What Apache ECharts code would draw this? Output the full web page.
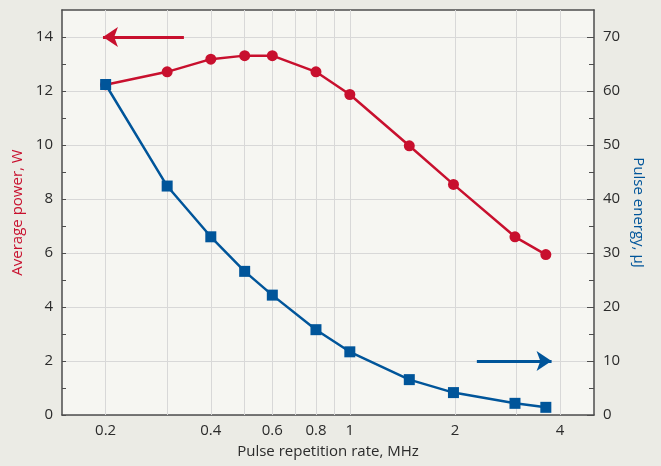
<!DOCTYPE html>
<html>
<head>
<meta charset="utf-8">
<script src="https://cdn.jsdelivr.net/npm/echarts@6/dist/echarts.min.js"></script>
<style>
html,body{margin:0;padding:0;background:#ebebe5;}
#chart{width:661px;height:466px;}
</style>
</head>
<body>
<div id="chart"></div>
<script>
// Data
const freq = [0.2, 0.3, 0.4, 0.5, 0.6, 0.8, 1.0, 1.48, 1.98, 2.97, 3.64];   // MHz
const power = [12.23, 12.71, 13.18, 13.31, 13.31, 12.71, 11.87, 9.97, 8.54, 6.6, 5.94]; // W
const energy = [61.2, 42.4, 33.0, 26.6, 22.2, 15.8, 11.7, 6.55, 4.15, 2.16, 1.42]; // uJ
const xTicks = [0.2, 0.3, 0.4, 0.5, 0.6, 0.7, 0.8, 0.9, 1, 2, 3, 4];
const xLabels = [0.2, 0.4, 0.6, 0.8, 1, 2, 4];
const yLeftMajor = [0, 2, 4, 6, 8, 10, 12, 14];
const yLeftMinor = [1, 3, 5, 7, 9, 11, 13];
const yRightMajor = [0, 10, 20, 30, 40, 50, 60, 70];
const yRightMinor = [5, 15, 25, 35, 45, 55, 65];
const powerArrow = [0.335, 0.1965, 14];   // from x, to x, y (W)
const energyArrow = [2.31, 3.78, 10];     // from x, to x, y (uJ)

const X_MIN = 0.15, X_MAX = 5;
const RED = '#c8102e';
const BLUE = '#00559a';
const TXT = '#2b2b2b';
const AXC = '#4d4d4d';
const GRID = '#d8d8d8';
const FONT = 'Open Sans';
const FS = 15;

const chart = echarts.init(document.getElementById('chart'));
const fmt = v => String(Number(Number(v).toPrecision(6)));

const xCommon = {
  type: 'log', logBase: 10, min: X_MIN, max: X_MAX,
  axisLine: { show: true, onZero: false, lineStyle: { color: AXC, width: 1.5 } },
  axisTick: { show: true, inside: true, length: 4, customValues: xTicks, lineStyle: { color: AXC, width: 1 } },
  minorTick: { show: false }, minorSplitLine: { show: false }
};

const option = {
  backgroundColor: '#ebebe5',
  animation: false,
  textStyle: { fontFamily: FONT },
  grid: { left: 62, right: 67, top: 10, bottom: 51, show: true, backgroundColor: '#f6f6f2', borderWidth: 0, containLabel: false, outerBoundsMode: 'none' },
  xAxis: [
    Object.assign({}, xCommon, {
      position: 'bottom',
      name: 'Pulse repetition rate, MHz', nameLocation: 'middle', nameGap: 29,
      nameTextStyle: { color: TXT, fontSize: FS, fontFamily: FONT },
      axisLabel: { show: true, customValues: xLabels, formatter: fmt, color: TXT, fontSize: FS, margin: 8, fontFamily: FONT },
      splitLine: { show: false }
    }),
    Object.assign({}, xCommon, {
      position: 'top',
      axisLabel: { show: false },
      splitLine: { show: false }
    })
  ],
  yAxis: [
    {
      type: 'value', min: 0, max: 15, position: 'left',
      name: 'Average power, W', nameLocation: 'middle', nameGap: 36,
      nameTextStyle: { color: RED, fontSize: FS, fontFamily: FONT },
      axisLine: { show: true, onZero: false, lineStyle: { color: AXC, width: 1.5 } },
      axisTick: { show: true, inside: true, length: 4, customValues: yLeftMajor, lineStyle: { color: AXC } },
      axisLabel: { show: true, customValues: yLeftMajor, color: TXT, fontSize: FS, margin: 9, fontFamily: FONT },
      splitLine: { show: true, lineStyle: { color: GRID, width: 1 } }
    },
    {
      type: 'value', min: 0, max: 75, position: 'right',
      name: 'Pulse energy, μJ', nameLocation: 'middle', nameGap: 37, nameRotate: -90,
      nameTextStyle: { color: BLUE, fontSize: FS, fontFamily: FONT },
      axisLine: { show: true, onZero: false, lineStyle: { color: AXC, width: 1.5 } },
      axisTick: { show: true, inside: true, length: 7, customValues: yRightMajor, lineStyle: { color: AXC } },
      axisLabel: { show: true, customValues: yRightMajor, color: TXT, fontSize: FS, margin: 9, fontFamily: FONT },
      splitLine: { show: false }
    },
    {
      type: 'value', min: 0, max: 15, position: 'left', offset: 0,
      axisLine: { show: false, onZero: false },
      axisTick: { show: true, inside: true, length: 4, customValues: yLeftMinor, lineStyle: { color: AXC } },
      axisLabel: { show: false }, splitLine: { show: false }
    },
    {
      type: 'value', min: 0, max: 75, position: 'right', offset: 0,
      axisLine: { show: false, onZero: false },
      axisTick: { show: true, inside: true, length: 5, customValues: yRightMinor, lineStyle: { color: AXC } },
      axisLabel: { show: false }, splitLine: { show: false }
    }
  ],
  series: [
    {
      // vertical grid lines at every x tick
      name: 'xgrid', type: 'line', xAxisIndex: 0, yAxisIndex: 0, data: [],
      z: 1, zlevel: 0, silent: true,
      markLine: {
        z: 1, silent: true, animation: false, symbol: ['none', 'none'],
        label: { show: false },
        lineStyle: { color: GRID, width: 1, type: 'solid' },
        emphasis: { disabled: true },
        data: xTicks.map(v => ({ xAxis: v }))
      }
    },
    {
      name: 'power', type: 'line', xAxisIndex: 0, yAxisIndex: 0,
      data: freq.map((f, i) => [f, power[i]]),
      symbol: 'circle', symbolSize: 11,
      lineStyle: { color: RED, width: 2.5 },
      itemStyle: { color: RED },
      z: 3,
      markLine: {
        z: 5, silent: true, animation: false,
        symbol: ['none', 'arrow'], symbolSize: 15,
        label: { show: false },
        lineStyle: { color: RED, width: 3, type: 'solid' },
        data: [[
          { coord: [powerArrow[0], powerArrow[2]] },
          { coord: [powerArrow[1], powerArrow[2]] }
        ]]
      }
    },
    {
      name: 'energy', type: 'line', xAxisIndex: 0, yAxisIndex: 1,
      data: freq.map((f, i) => [f, energy[i]]),
      symbol: 'rect', symbolSize: 11,
      lineStyle: { color: BLUE, width: 2.5 },
      itemStyle: { color: BLUE },
      z: 4,
      markLine: {
        z: 5, silent: true, animation: false,
        symbol: ['none', 'arrow'], symbolSize: 15,
        label: { show: false },
        lineStyle: { color: BLUE, width: 3, type: 'solid' },
        data: [[
          { coord: [energyArrow[0], energyArrow[2]] },
          { coord: [energyArrow[1], energyArrow[2]] }
        ]]
      }
    }
  ]
};
chart.setOption(option);
</script>
</body>
</html>
